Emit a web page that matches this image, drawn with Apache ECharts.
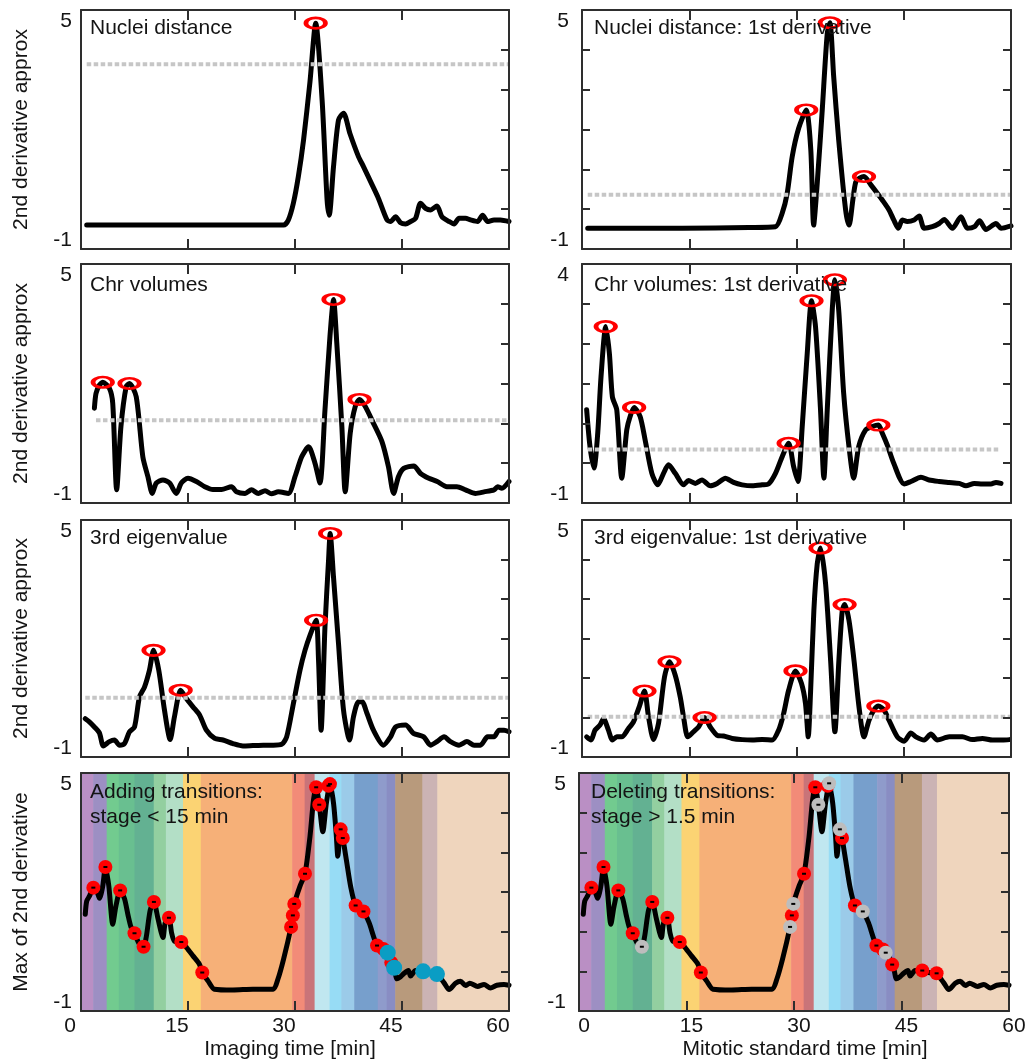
<!DOCTYPE html>
<html>
<head>
<meta charset="utf-8">
<script src="https://cdn.jsdelivr.net/npm/echarts@6/dist/echarts.min.js"></script>
<style>
  html, body { margin: 0; padding: 0; background: #ffffff; }
  #chart { width: 1030px; height: 1064px; }
</style>
</head>
<body>
<div id="chart"></div>
<script>
// ---------- data ----------
// Nuclei distance: 2nd derivative approximation
const nucT = [0.8, 28.4, 29.07, 29.77, 30.47, 31.2, 32.1, 32.9, 33.8, 34.5, 34.8, 35.4, 36.1, 36.8, 37.7, 38.9, 39.6, 40.6, 41.7, 42.9, 43.4, 44.1, 44.8, 45.5, 46.2, 46.9, 47.6, 48.3, 49.0, 49.9, 50.6, 51.6, 52.3, 53.0, 53.9, 54.6, 55.6, 56.3, 57.0, 57.9, 58.8, 60.0];
const nucV = [-0.40, -0.40, -0.27, 0.15, 0.82, 1.74, 3.20, 4.67, 2.74, 0.23, -0.15, 1.07, 2.24, 2.41, 1.90, 1.32, 1.07, 0.69, 0.27, -0.27, -0.31, -0.19, -0.34, -0.37, -0.31, -0.23, 0.15, 0.02, -0.02, 0.08, -0.19, -0.31, -0.37, -0.23, -0.23, -0.27, -0.31, -0.15, -0.31, -0.27, -0.27, -0.31];
const nucPkT = [32.9];
const nucPkV = [4.67];

// Chr volumes: 2nd derivative approximation
const chrT = [1.88, 2.1, 2.58, 3.05, 3.98, 4.45, 5.0, 5.6, 6.33, 6.8, 7.74, 8.67, 9.38, 9.99, 10.55, 11.49, 12.42, 13.36, 14.06, 15.0, 16.17, 17.35, 18.5, 19.7, 21.1, 21.8, 23.0, 23.9, 24.85, 25.8, 26.7, 27.66, 29.07, 30.0, 30.94, 31.9, 32.8, 33.5, 34.2, 34.9, 35.4, 35.86, 36.57, 37.04, 37.74, 38.44, 39.05, 39.85, 41.0, 42.19, 43.1, 43.83, 44.5, 45.24, 46.65, 47.6, 48.76, 49.93, 51.3, 52.7, 53.9, 55.3, 56.5, 57.9, 58.4, 59.0, 60.0];
const chrV = [1.38, 1.75, 1.96, 2.03, 1.88, 1.5, -0.67, 0.92, 1.92, 2.0, 1.67, 0.16, -0.34, -0.76, -0.5, -0.42, -0.5, -0.76, -0.5, -0.38, -0.46, -0.59, -0.66, -0.66, -0.59, -0.72, -0.76, -0.67, -0.76, -0.69, -0.77, -0.72, -0.76, -0.34, 0.16, 0.41, 0.0, -0.5, 1.33, 3.18, 4.11, 3.01, 0.92, -0.72, 0.75, 1.42, 1.6, 1.42, 1.0, 0.54, -0.09, -0.76, -0.34, -0.13, -0.07, -0.26, -0.38, -0.46, -0.59, -0.59, -0.67, -0.76, -0.72, -0.67, -0.59, -0.63, -0.46];
const chrPkT = [3.05, 6.8, 35.4, 39.05];
const chrPkV = [2.03, 2.0, 4.11, 1.6];

// 3rd eigenvalue: 2nd derivative approximation
const eigT = [0.6, 1.17, 1.88, 2.58, 3.14, 3.98, 4.69, 5.39, 6.1, 6.8, 7.5, 8.2, 8.9, 9.6, 10.17, 10.9, 11.7, 12.5, 13.1, 13.97, 14.77, 15.7, 16.64, 17.58, 18.75, 19.9, 21.3, 22.7, 24.1, 25.55, 26.96, 28.13, 28.83, 29.77, 30.7, 31.4, 32.1, 32.96, 33.3, 33.66, 34.2, 34.7, 34.93, 35.4, 36.1, 36.8, 37.65, 38.2, 38.9, 39.4, 40.1, 41.0, 42.4, 43.4, 44.1, 45.5, 46.6, 48.05, 49.0, 49.9, 50.9, 51.8, 53.0, 54.1, 55.1, 56.0, 57.0, 57.9, 58.6, 59.3, 60.0];
const eigV = [-0.03, -0.11, -0.24, -0.39, -0.72, -0.61, -0.57, -0.70, -0.66, -0.36, -0.24, 0.52, 0.77, 1.2, 1.70, 1.2, 0.19, -0.56, 0.02, 0.69, 0.48, 0.27, 0.06, -0.32, -0.53, -0.57, -0.66, -0.72, -0.71, -0.70, -0.70, -0.68, -0.49, 0.35, 1.2, 1.70, 2.08, 2.46, 1.45, -0.32, 2.29, 3.97, 4.66, 3.55, 1.87, 0.19, -0.57, 0.02, 0.40, 0.40, 0.1, -0.32, -0.70, -0.49, -0.24, -0.19, -0.40, -0.49, -0.70, -0.61, -0.49, -0.61, -0.70, -0.61, -0.70, -0.70, -0.49, -0.49, -0.32, -0.32, -0.36];
const eigPkT = [10.17, 13.97, 32.96, 34.93];
const eigPkV = [1.70, 0.69, 2.46, 4.66];

// Nuclei distance: 1st derivative
const nd1T = [0.8, 14.0, 23.3, 27.06, 28.0, 28.7, 29.4, 30.3, 31.36, 32.0, 32.4, 32.9, 33.6, 34.3, 34.67, 35.2, 35.9, 36.87, 37.34, 38.3, 39.44, 40.4, 41.3, 42.0, 42.94, 43.6, 44.25, 44.8, 45.5, 46.45, 47.15, 47.85, 49.0, 49.95, 50.65, 51.8, 53.0, 53.9, 54.9, 55.6, 56.5, 57.9, 58.6, 60.0];
const nd1V = [-0.48, -0.48, -0.46, -0.44, -0.10, 0.40, 1.32, 2.03, 2.49, 1.49, -0.40, 0.65, 2.49, 4.41, 4.68, 3.33, 1.74, -0.02, -0.40, 0.69, 0.82, 0.61, 0.40, 0.23, -0.02, -0.27, -0.48, -0.27, -0.31, -0.27, -0.17, -0.48, -0.44, -0.36, -0.26, -0.48, -0.19, -0.48, -0.44, -0.29, -0.51, -0.36, -0.48, -0.42];
const nd1PkT = [31.36, 34.67, 39.44];
const nd1PkV = [2.49, 4.68, 0.82];

// Chr volumes: 1st derivative
const cv1T = [0.65, 1.12, 1.68, 2.2, 2.66, 3.32, 3.83, 4.25, 4.86, 5.56, 6.26, 6.73, 7.29, 8.13, 8.83, 9.77, 10.6, 11.4, 12.1, 13.04, 14.2, 14.9, 15.84, 16.78, 17.94, 18.9, 20.05, 21.2, 22.4, 23.8, 25.2, 26.1, 27.06, 28.0, 28.9, 29.6, 30.2, 30.8, 31.5, 32.1, 32.66, 33.36, 33.83, 34.3, 35.0, 35.37, 35.9, 36.6, 37.34, 38.0, 38.7, 39.67, 40.6, 41.45, 42.0, 42.7, 43.6, 45.05, 46.0, 47.4, 48.55, 49.95, 51.36, 52.76, 53.7, 54.86, 56.0, 57.2, 57.9, 58.6];
const cv1V = [0.95, 0.18, -0.27, 0.46, 1.64, 2.69, 2.13, 1.22, 0.95, -0.48, 0.53, 0.81, 1.0, 0.81, 0.32, -0.38, -0.62, -0.38, -0.2, -0.38, -0.62, -0.53, -0.59, -0.52, -0.64, -0.59, -0.48, -0.57, -0.62, -0.64, -0.62, -0.60, -0.38, -0.03, 0.25, -0.24, -0.55, 0.60, 2.13, 3.23, 2.69, 0.95, -0.48, 0.95, 3.04, 3.67, 3.04, 1.29, 0.18, -0.48, 0.18, 0.53, 0.60, 0.63, 0.46, 0.21, -0.17, -0.60, -0.55, -0.46, -0.52, -0.55, -0.57, -0.59, -0.64, -0.59, -0.60, -0.60, -0.57, -0.59];
const cv1PkT = [3.32, 7.29, 28.9, 32.1, 35.37, 41.45];
const cv1PkV = [2.69, 1.0, 0.25, 3.23, 3.67, 0.63];

// 3rd eigenvalue: 1st derivative
const ev1T = [0.65, 1.26, 1.82, 2.52, 3.0, 3.7, 4.25, 4.86, 5.56, 6.5, 7.2, 8.0, 8.74, 9.3, 10.0, 10.7, 11.54, 12.24, 13.04, 13.74, 14.2, 14.8, 15.6, 16.3, 17.15, 17.94, 18.9, 19.8, 21.0, 22.4, 23.8, 25.2, 26.6, 27.5, 28.2, 28.9, 29.86, 30.7, 31.26, 31.64, 31.96, 32.43, 32.9, 33.36, 34.07, 34.77, 35.37, 35.93, 36.4, 36.73, 37.34, 38.04, 38.74, 39.44, 40.14, 40.84, 41.45, 42.24, 42.94, 44.1, 45.05, 46.0, 46.7, 47.85, 48.8, 49.7, 51.36, 53.2, 54.6, 56.0, 57.4, 58.8, 59.8];
const ev1V = [-0.49, -0.57, -0.32, -0.19, -0.03, -0.32, -0.57, -0.49, -0.49, -0.28, -0.11, 0.27, 0.67, 0.02, -0.56, -0.15, 1.03, 1.41, 1.07, 0.52, 0.02, -0.49, -0.36, -0.24, 0.0, -0.24, -0.45, -0.47, -0.53, -0.56, -0.57, -0.56, -0.57, -0.32, 0.10, 0.69, 1.18, 0.86, 0.35, -0.49, 0.61, 2.71, 3.89, 4.29, 3.38, 1.45, -0.36, 1.45, 2.71, 2.86, 2.46, 1.45, 0.27, -0.49, -0.07, 0.19, 0.29, 0.19, -0.07, -0.49, -0.60, -0.39, -0.49, -0.57, -0.42, -0.57, -0.49, -0.49, -0.56, -0.53, -0.57, -0.57, -0.56];
const ev1PkT = [8.74, 12.24, 17.15, 29.86, 33.36, 36.73, 41.45];
const ev1PkV = [0.67, 1.41, 0.0, 1.18, 4.29, 2.86, 0.29];

// Detection thresholds (dotted lines): nuc, chr, eig, nd1, cv1, ev1
const thrLevel = [3.64, 1.08, 0.50, 0.36, 0.12, 0.02];
const thrFrom  = [0.8, 2.1, 0.6, 0.8, 0.8, 0.8];
const thrTo    = [60, 60, 60, 60, 58.4, 60];

// Max of 2nd derivative (shared by both bottom panels)
const maxT = [0.6, 0.8, 1.2, 1.73, 2.2, 2.6, 3.05, 3.42, 3.9, 4.45, 4.9, 5.49, 6.1, 6.6, 7.0, 7.5, 8.2, 8.77, 9.15, 9.7, 10.22, 10.8, 11.5, 11.8, 12.33, 12.7, 13.1, 14.06, 14.8, 15.7, 16.6, 17.0, 17.8, 18.7, 21.3, 24.1, 26.95, 27.6, 28.4, 29.45, 29.7, 29.9, 30.7, 31.4, 32.1, 32.6, 32.97, 33.4, 33.9, 34.4, 34.9, 35.4, 35.8, 36.0, 36.4, 36.7, 37.2, 37.8, 38.5, 39.6, 40.4, 41.5, 42.5, 43.0, 43.6, 43.9, 44.3, 44.7, 45.3, 45.9, 46.2, 46.9, 47.96, 48.8, 49.9, 50.9, 51.6, 52.5, 53.2, 53.9, 54.5, 55.6, 56.5, 57.4, 58.3, 59.3, 60.0];
const maxV = [1.44, 1.77, 1.9, 2.11, 2.03, 1.84, 2.15, 2.63, 2.15, 1.19, 1.65, 2.04, 1.83, 1.41, 1.12, 0.96, 0.68, 0.62, 0.87, 1.54, 1.75, 1.32, 0.85, 1.22, 1.35, 0.97, 0.76, 0.74, 0.60, 0.39, 0.18, -0.03, -0.24, -0.45, -0.47, -0.45, -0.45, -0.2, 0.31, 1.12, 1.41, 1.70, 2.15, 2.46, 3.40, 4.33, 4.64, 4.2, 3.52, 4.24, 4.72, 4.24, 3.4, 2.9, 3.58, 3.36, 2.81, 2.14, 1.66, 1.51, 1.22, 0.65, 0.53, 0.47, 0.2, 0.09, -0.19, -0.15, -0.05, 0.02, -0.12, 0.02, 0.0, -0.03, -0.07, -0.29, -0.46, -0.30, -0.25, -0.36, -0.30, -0.38, -0.33, -0.42, -0.35, -0.33, -0.35];

// Transitions kept (red) and added (cyan) with the "stage < 15 min" rule
const addRedT = [1.73, 3.42, 5.49, 7.5, 8.77, 10.22, 12.33, 14.06, 17.0, 29.45, 29.7, 29.9, 31.4, 32.97, 33.4, 34.7, 34.9, 36.4, 36.7, 38.5, 39.6, 41.5, 42.4, 43.5];
const addRedV = [2.11, 2.63, 2.04, 0.96, 0.62, 1.75, 1.35, 0.74, -0.03, 1.12, 1.41, 1.70, 2.46, 4.64, 4.2, 4.68, 4.72, 3.58, 3.36, 1.66, 1.51, 0.65, 0.56, 0.22];
const addCyanT = [43.0, 43.9, 47.96, 49.9];
const addCyanV = [0.47, 0.09, 0.0, -0.07];

// Transitions kept (red) and deleted (grey) with the "stage > 1.5 min" rule
const delRedT = [1.73, 3.42, 5.49, 7.5, 10.22, 12.33, 14.06, 17.0, 29.7, 31.4, 32.97, 34.7, 36.7, 38.5, 41.5, 42.4, 43.7, 47.9, 49.9];
const delRedV = [2.11, 2.63, 2.04, 0.96, 1.75, 1.35, 0.74, -0.03, 1.41, 2.46, 4.64, 4.68, 3.36, 1.66, 0.65, 0.55, 0.17, 0.02, -0.05];
const delGreyT = [8.77, 29.45, 29.9, 33.4, 34.9, 36.4, 39.6, 42.8];
const delGreyV = [0.62, 1.12, 1.70, 4.2, 4.74, 3.58, 1.51, 0.47];

// Mitotic stage boundaries [min] and stage colours
const stageEdges = [0, 1.7, 3.6, 5.3, 7.5, 10.2, 11.9, 14.3, 16.8, 29.6, 31.35, 32.75, 34.85, 36.5, 38.3, 41.6, 42.85, 44.05, 47.85, 49.95, 60];
const stageColors = ['#ba8fc4', '#9d8fc3', '#72cb8f', '#69bf90', '#63b192', '#93cfa0', '#b3dfc6', '#fbd373', '#f6b078', '#f28b78', '#c97479', '#c0e7f0', '#97dcf5', '#9bcbe9', '#779fcc', '#8f9bcb', '#898dc3', '#b89a7c', '#cbb3b4', '#efd5bd'];

// ---------- styling ----------
const FONT = '"Liberation Sans", Arial, Helvetica, sans-serif';
const INK = '#141414';
const FRAME = '#2e2e2e';
const RED = '#ff0000';
const CYAN = '#0a9dc4';
const GREY = '#bdbdbd';

const cols = [
  { left: 81, width: 428, titleX: 90, yLabelMargin: 9, xLabelPad: [0, 22, 0, 0], xNamePad: [0, 10, 0, 0], leftTicks: false },
  { left: 582, width: 429, titleX: 594, yLabelMargin: 13, xLabelPad: [0, 0, 0, 10], xNamePad: [0, 0, 0, 22], leftTicks: true }
];
const rows = [
  { top: 10, height: 239, titleY: 16 },
  { top: 264, height: 239, titleY: 273 },
  { top: 520, height: 237, titleY: 526 },
  { top: 773, height: 238, titleY: 780 }
];

const panels = [
  { col: 0, row: 0, title: 'Nuclei distance', t: nucT, v: nucV, pkT: nucPkT, pkV: nucPkV, thr: 0, yMax: 5, yName: '2nd derivative approx' },
  { col: 0, row: 1, title: 'Chr volumes', t: chrT, v: chrV, pkT: chrPkT, pkV: chrPkV, thr: 1, yMax: 5, yName: '2nd derivative approx' },
  { col: 0, row: 2, title: '3rd eigenvalue', t: eigT, v: eigV, pkT: eigPkT, pkV: eigPkV, thr: 2, yMax: 5, yName: '2nd derivative approx' },
  { col: 0, row: 3, title: 'Adding transitions:\nstage < 15 min', t: maxT, v: maxV, yMax: 5, yName: 'Max of 2nd derivative', xName: 'Imaging time [min]', bands: true,
    dots: [ { t: addRedT, v: addRedV, color: RED, size: 14, center: true }, { t: addCyanT, v: addCyanV, color: CYAN, size: 16, center: false } ] },
  { col: 1, row: 0, title: 'Nuclei distance: 1st derivative', t: nd1T, v: nd1V, pkT: nd1PkT, pkV: nd1PkV, thr: 3, yMax: 5 },
  { col: 1, row: 1, title: 'Chr volumes: 1st derivative', t: cv1T, v: cv1V, pkT: cv1PkT, pkV: cv1PkV, thr: 4, yMax: 4 },
  { col: 1, row: 2, title: '3rd eigenvalue: 1st derivative', t: ev1T, v: ev1V, pkT: ev1PkT, pkV: ev1PkV, thr: 5, yMax: 5 },
  { col: 1, row: 3, title: 'Deleting transitions:\nstage > 1.5 min', t: maxT, v: maxV, yMax: 5, xName: 'Mitotic standard time [min]', bands: true, shiftLeft: 3,
    dots: [ { t: delRedT, v: delRedV, color: RED, size: 14, center: true }, { t: delGreyT, v: delGreyV, color: GREY, size: 14, center: true } ] }
];

const zip = (a, b) => a.map((x, i) => [x, b[i]]);

const option = {
  animation: false,
  backgroundColor: '#ffffff',
  textStyle: { fontFamily: FONT },
  title: [], grid: [], xAxis: [], yAxis: [], series: []
};

const frameLine = { show: true, onZero: false, lineStyle: { color: FRAME, width: 2 } };

panels.forEach((p, i) => {
  const c = cols[p.col], r = rows[p.row];
  const left = c.left - (p.shiftLeft || 0);
  const width = c.width + (p.shiftLeft ? 1 : 0);
  const isBottom = p.row === 3;
  const xi = 2 * i, yi = 3 * i;

  option.title.push({
    text: p.title, left: c.titleX - (p.shiftLeft || 0), top: r.titleY, padding: 0,
    textStyle: { fontFamily: FONT, fontSize: 21, fontWeight: 'normal', color: INK, lineHeight: isBottom ? 25 : 24 }
  });

  option.grid.push({ left: left, top: r.top, width: width, height: r.height, containLabel: false });

  // bottom axis (data) and top axis (ticks only)
  option.xAxis.push({
    type: 'value', gridIndex: i, min: 0, max: 60, interval: 15, position: 'bottom', z: 10,
    axisLine: frameLine,
    axisTick: { show: true, inside: true, length: 10, lineStyle: { color: FRAME, width: 2 } },
    axisLabel: { show: isBottom, color: INK, fontSize: 21, fontFamily: FONT, margin: 5, padding: c.xLabelPad },
    splitLine: { show: false },
    name: isBottom ? p.xName : '', nameLocation: 'middle', nameGap: 28,
    nameTextStyle: { color: INK, fontSize: 21, fontFamily: FONT, padding: c.xNamePad }
  });
  option.xAxis.push({
    type: 'value', gridIndex: i, min: 0, max: 60, interval: 15, position: 'top', z: 10,
    axisLine: frameLine,
    axisTick: { show: true, inside: true, length: 10, lineStyle: { color: FRAME, width: 2 } },
    axisLabel: { show: false }, splitLine: { show: false }
  });

  // value axis carrying the end labels and the axis title
  const yMax = p.yMax;
  option.yAxis.push({
    type: 'value', gridIndex: i, min: -1, max: yMax, interval: 1, position: 'left', z: 10,
    axisLine: { show: false, onZero: false }, axisTick: { show: false }, splitLine: { show: false },
    axisLabel: {
      color: INK, fontSize: 21, fontFamily: FONT, margin: c.yLabelMargin,
      formatter: (v) => (v === -1 ? '{lo|-1}' : (v === yMax ? '{hi|' + v + '}' : '')),
      rich: {
        lo: { fontSize: 21, fontFamily: FONT, color: INK, padding: [0, 0, 18, 0] },
        hi: { fontSize: 21, fontFamily: FONT, color: INK, padding: [22, 0, 0, 0] }
      }
    },
    name: p.yName || '', nameLocation: 'middle', nameGap: 49,
    nameTextStyle: { color: INK, fontSize: 21, fontFamily: FONT }
  });
  // frame sides with six evenly spaced tick marks
  option.yAxis.push({
    type: 'value', gridIndex: i, min: 0, max: 6, interval: 1, position: 'left', z: 10,
    axisLine: frameLine,
    axisTick: { show: c.leftTicks, inside: true, length: 8, lineStyle: { color: FRAME, width: 2 } },
    axisLabel: { show: false }, splitLine: { show: false }
  });
  option.yAxis.push({
    type: 'value', gridIndex: i, min: 0, max: 6, interval: 1, position: 'right', z: 10,
    axisLine: frameLine,
    axisTick: { show: true, inside: true, length: 8, lineStyle: { color: FRAME, width: 2 } },
    axisLabel: { show: false }, splitLine: { show: false }
  });

  // mitotic stage colour bands
  if (p.bands) {
    option.series.push({
      type: 'custom', xAxisIndex: xi, yAxisIndex: yi, z: 1, silent: true, clip: true,
      dimensions: ['from', 'to', 'stage'],
      encode: { x: ['from', 'to'], y: 'stage' },
      data: stageColors.map((col, k) => [stageEdges[k], stageEdges[k + 1], k]),
      renderItem: (params, api) => {
        const a = api.coord([api.value(0), yMax]);
        const b = api.coord([api.value(1), -1]);
        return {
          type: 'rect',
          shape: { x: a[0], y: a[1], width: b[0] - a[0] + 0.6, height: b[1] - a[1] },
          style: { fill: stageColors[api.value(2)] }
        };
      }
    });
  }

  // feature curve
  option.series.push({
    type: 'line', xAxisIndex: xi, yAxisIndex: yi, z: 3, silent: true,
    data: zip(p.t, p.v), symbol: 'none', showSymbol: false, smooth: 0.25,
    lineStyle: { color: '#000000', width: 5, join: 'round', cap: 'round' }
  });

  // threshold
  if (p.thr !== undefined) {
    const k = p.thr;
    option.series.push({
      type: 'line', xAxisIndex: xi, yAxisIndex: yi, z: 4, silent: true,
      data: [[thrFrom[k], thrLevel[k]], [thrTo[k], thrLevel[k]]], symbol: 'none',
      lineStyle: { color: '#c6c6c6', width: 4, type: [4.5, 2.5], cap: 'butt' }
    });
  }

  // detected peaks (rings)
  if (p.pkT) {
    option.series.push({
      type: 'scatter', xAxisIndex: xi, yAxisIndex: yi, z: 5, silent: true,
      data: zip(p.pkT, p.pkV), symbol: 'circle', symbolSize: [19.5, 10.5],
      itemStyle: { color: 'rgba(0,0,0,0)', borderColor: RED, borderWidth: 3.5, opacity: 1 }
    });
  }

  // transition markers
  if (p.dots) {
    p.dots.forEach((d, j) => {
      option.series.push({
        type: 'scatter', xAxisIndex: xi, yAxisIndex: yi, z: 5 + j * 2, silent: true,
        data: zip(d.t, d.v), symbol: 'circle', symbolSize: d.size,
        itemStyle: { color: d.color, opacity: 1 }
      });
      if (d.center) {
        option.series.push({
          type: 'scatter', xAxisIndex: xi, yAxisIndex: yi, z: 6 + j * 2, silent: true,
          data: zip(d.t, d.v), symbol: 'rect', symbolSize: [4, 2],
          itemStyle: { color: '#000000', opacity: 1 }
        });
      }
    });
  }
});

const chart = echarts.init(document.getElementById('chart'), null, { renderer: 'canvas' });
chart.setOption(option);
</script>
</body>
</html>
